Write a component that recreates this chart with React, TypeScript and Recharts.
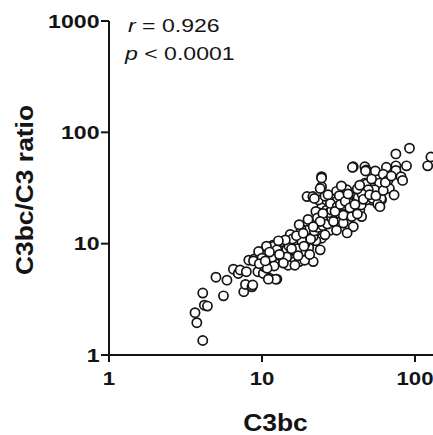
import React from 'react'
import {ScatterChart, Scatter, XAxis, YAxis, Label} from 'recharts'

// [C3bc, C3bc/C3 ratio], grouped by region of the cloud
const lowerTail: number[][] = [
  [4.1, 1.35], [3.75, 1.95], [3.65, 2.4], [4.2, 2.8], [4.4, 2.75], [4.1, 3.6],
  [5.6, 3.4], [5.0, 5.0], [5.9, 4.7], [7.6, 3.7], [7.8, 4.3], [8.6, 4.1],
  [6.5, 5.9], [7.0, 5.4], [7.2, 5.8], [7.9, 5.6], [8.2, 7.1], [8.9, 7.3],
  [9.4, 5.6], [10.2, 5.4], [10.1, 8.5], [11.2, 4.9], [12.5, 4.8]
]

const middleCloud: number[][] = [
  [8.8, 7.0], [8.7, 4.25], [10.4, 6.2], [11.0, 6.5], [11.6, 7.6], [12.4, 7.9],
  [13.1, 9.1], [14.0, 9.1], [15.3, 12.1], [16.4, 7.6], [16.4, 6.9], [17.5, 6.9],
  [19.1, 8.5], [20.2, 9.2], [19.7, 12.0], [20.5, 12.6], [22.8, 15.2], [24.0, 18.0],
  [24.5, 21.0], [23.4, 24.7], [19.7, 26.5], [21.5, 26.5], [24.0, 8.8], [24.5, 11.2],
  [22.5, 10.6], [9.5, 8.5], [10.0, 7.4], [11.8, 9.7], [13.8, 6.9], [14.8, 6.4],
  [13.4, 10.4], [11.9, 9.5], [10.7, 9.5], [11.6, 7.5], [12.5, 8.8], [14.5, 8.8],
  [16.0, 10.0], [17.7, 11.6], [19.7, 13.2], [21.6, 15.3], [24.0, 18.8], [26.4, 20.0],
  [29.3, 17.5], [32.0, 18.8], [35.8, 18.8], [39.5, 19.4], [43.6, 20.0], [34.0, 15.3],
  [27.9, 13.2], [21.6, 11.6], [19.1, 10.0], [16.9, 8.2], [14.5, 7.6], [21.6, 6.9],
  [19.0, 7.1], [16.4, 6.4], [13.8, 6.7], [12.3, 4.8], [11.0, 4.8], [15.0, 9.5],
  [17.0, 9.0], [18.2, 10.6], [15.8, 11.0], [13.0, 8.0], [12.0, 6.3], [10.8, 6.0],
  [9.6, 6.6], [18.0, 13.5], [20.0, 16.5], [17.5, 14.8], [22.5, 19.5], [26.0, 16.5],
  [14.2, 10.8], [15.6, 9.0], [16.8, 11.8], [18.6, 12.4], [20.8, 11.0], [22.0, 13.0],
  [23.2, 14.0], [25.0, 14.5], [26.8, 15.0], [28.5, 17.0], [27.5, 19.0], [23.0, 17.0],
  [18.8, 9.5], [20.5, 8.0], [17.2, 7.8], [12.8, 10.6], [11.2, 8.4], [10.5, 7.0]
]

const upperCloud: number[][] = [
  [39.5, 49], [47, 49], [48, 46], [55, 45], [24.5, 40], [24.5, 32.5],
  [22, 25.5], [25.8, 26.7], [30.7, 29.5], [35.8, 30.5], [30.7, 24], [36.6, 25.5],
  [41.5, 26.7], [34, 22], [47, 35], [48, 29.5], [54.6, 34], [52, 24.7],
  [57.5, 28.3], [25, 18.7], [28.5, 20], [24, 15.8], [29.3, 15.8], [34, 18],
  [38.6, 17.5], [39.5, 14.2], [44.8, 17.5], [21.6, 14.2], [25.8, 12], [30.7, 13.2],
  [36, 12.5], [48, 24.7], [53, 25.5], [60.4, 24.7], [28, 23], [31, 21.5],
  [92, 72], [75, 64], [127, 60], [121, 50], [88, 50], [75, 50],
  [75, 45.5], [65, 48.5], [47.5, 45], [39, 48.5], [62, 42], [81, 40],
  [83, 37], [66.5, 37], [48, 34.3], [58.5, 35], [68, 31.3], [54.5, 30.5],
  [49.5, 30.5], [73, 27.4], [60, 25.5], [42.5, 26], [44.5, 22.3], [57, 22.7],
  [59, 21.5], [24.5, 38.9], [24, 31.3], [27, 27.5], [32, 27], [38, 23],
  [45, 28], [42, 31], [33, 33], [30, 19.5], [32.5, 22.5], [35, 24],
  [37.5, 21], [40.5, 22.5], [42, 18.5], [46, 25], [50.5, 27.5], [55.5, 27],
  [62, 30], [64, 35.5], [70, 40.5], [52, 38], [43.5, 33.5], [36.5, 28]
]

const axisTicks = [1, 10, 100, 1000]

const points = [...lowerTail, ...middleCloud, ...upperCloud].map(([x, y]) => ({x, y}))

const font = '"Liberation Sans", Arial, sans-serif'
const ink = '#141414'

const YTick = (props: any) => {
  const {x, y, payload} = props
  return (
    <g transform={`translate(${x},${y})`}>
      <text transform="scale(1.25,1)" textAnchor="end" dy="0.355em"
        fontFamily={font} fontWeight="bold" fontSize={18.5} fill={ink}>
        {payload.value}
      </text>
    </g>
  )
}

const XTick = (props: any) => {
  const {x, y, payload} = props
  return (
    <g transform={`translate(${x},${y})`}>
      <text transform="scale(1.2,1)" textAnchor="middle" dy="0.71em"
        fontFamily={font} fontWeight="bold" fontSize={18.5} fill={ink}>
        {payload.value}
      </text>
    </g>
  )
}

const Dot = (props: any) => (
  <circle cx={props.cx} cy={props.cy} r={4.6} fill="#fff" stroke={ink} strokeWidth={1.7} />
)

const App = () => {
  return (
    <div style={{position: 'absolute', left: 0, top: 0, width: 433, height: 435,
      overflow: 'hidden', background: '#fff'}}>
      <ScatterChart width={580} height={435}
        margin={{top: 21, right: 12, left: 0, bottom: 0}}>
        <XAxis type="number" dataKey="x" scale="log" domain={[1, 1000]}
          ticks={axisTicks} allowDataOverflow height={80}
          tickSize={7} tickMargin={10} tick={<XTick />}
          axisLine={{stroke: ink, strokeWidth: 2}} tickLine={{stroke: ink, strokeWidth: 2}}>
          <Label content={() => (
            <text transform="translate(275.5,431) scale(1.15,1)" textAnchor="middle"
              fontFamily={font} fontWeight="bold" fontSize={23} fill={ink}>C3bc</text>
          )} />
        </XAxis>
        <YAxis type="number" dataKey="y" scale="log" domain={[1, 1000]}
          ticks={axisTicks} allowDataOverflow width={109}
          tickSize={8} tickMargin={1.5} tick={<YTick />}
          axisLine={{stroke: ink, strokeWidth: 2}} tickLine={{stroke: ink, strokeWidth: 2}}>
          <Label content={() => (
            <text transform="translate(33.3,190) rotate(-90) scale(1.1,1)" textAnchor="middle"
              fontFamily={font} fontWeight="bold" fontSize={24} fill={ink}>C3bc/C3 ratio</text>
          )} />
        </YAxis>
        <Scatter data={points} shape={<Dot />} isAnimationActive={false} />
      </ScatterChart>
      <svg width={433} height={70} style={{position: 'absolute', left: 0, top: 0}}>
        <text transform="translate(128,31.7) scale(1.24,1)" fontFamily={font}
          fontSize={18.6} fill={ink}>
          <tspan fontStyle="italic">r</tspan> = 0.926
        </text>
        <text transform="translate(125,59.5) scale(1.24,1)" fontFamily={font}
          fontSize={18.6} fill={ink}>
          <tspan fontStyle="italic">p</tspan> &lt; 0.0001
        </text>
      </svg>
    </div>
  )
}

export default App
